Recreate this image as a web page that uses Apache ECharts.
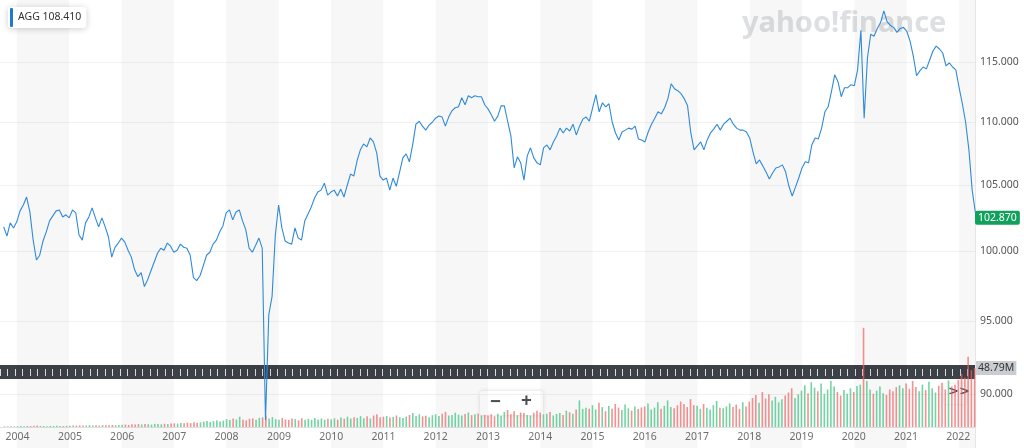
<!DOCTYPE html>
<html>
<head>
<meta charset="utf-8">
<script src="https://cdn.jsdelivr.net/npm/echarts@6.0.0/dist/echarts.min.js"></script>
<style>
html,body{margin:0;padding:0;background:#fff;}
#chart{width:1024px;height:448px;}
</style>
</head>
<body>
<div id="chart"></div>
<script>
// ---------- DATA ----------
// Prices sampled 16 times per year (index 0 = Jan 1, step = 1/16 year)
const price2003 = [101.82, 101.13, 102.12, 101.74]; // starts at index 12
const price2004 = [102.20,103.03,103.48,104.09,102.95,100.83,99.36,99.71,100.76,101.44,102.27,102.65,103.03,103.10,102.57,102.73];
const price2005 = [102.50,103.10,102.88,101.21,100.83,102.12,102.57,103.26,102.50,101.82,102.50,101.82,101.06,99.57,100.29,100.61];
const price2006 = [100.98,100.68,100.08,99.57,98.64,98.14,98.43,97.43,97.93,98.57,99.21,99.86,100.23,100.08,100.61,100.38];
const price2007 = [99.93,100.08,100.53,100.30,100.23,99.71,98.07,97.86,98.21,98.93,99.71,99.93,100.53,100.83,101.44,101.89];
const price2008 = [102.88,103.10,102.35,102.95,103.10,102.27,101.59,100.23,99.93,100.45,100.98,100.23,88.27,95.43,96.71,101.21];
const price2009 = [103.48,101.74,100.76,100.61,100.53,101.74,100.98,100.83,102.27,102.80,103.33,104.01,104.47,104.62,105.16,104.24];
const price2010 = [104.47,104.62,104.17,104.70,104.09,105.00,105.87,105.71,106.90,107.78,108.25,108.02,108.73,108.41,107.54,105.71];
const price2011 = [105.40,105.56,104.62,105.56,104.92,106.03,107.14,107.46,106.83,108.17,109.84,110.08,109.68,109.36,109.76,110.00];
const price2012 = [110.33,110.50,110.42,109.68,110.42,110.93,111.18,111.26,112.01,111.43,112.17,112.01,112.17,112.09,112.09,111.43];
const price2013 = [111.09,110.60,110.08,110.50,111.34,111.34,110.08,108.89,106.35,107.22,106.75,105.40,107.30,107.94,107.14,106.75];
const price2014 = [106.59,107.94,108.17,107.78,108.41,108.89,109.52,109.13,109.52,109.29,109.84,108.97,109.68,110.25,110.42,110.08];
const price2015 = [111.18,112.26,110.85,111.59,111.26,111.51,110.00,109.13,108.57,109.21,109.36,109.52,109.44,109.68,108.65,108.57];
const price2016 = [108.41,109.21,109.84,110.33,110.85,110.68,111.18,111.93,113.17,112.76,112.59,112.34,111.93,111.34,109.13,107.78];
const price2017 = [108.10,108.41,107.78,108.57,109.13,109.44,109.84,109.36,109.84,110.08,110.33,109.84,109.52,109.36,109.36,109.21];
const price2018 = [108.73,107.62,106.67,106.98,106.51,106.03,105.48,105.95,106.35,106.43,106.59,106.03,104.92,104.17,104.85,105.56];
const price2019 = [106.35,106.83,106.75,108.17,108.73,108.65,109.52,110.85,111.26,112.51,113.92,113.34,112.09,112.84,112.84,113.09];
const price2020 = [113.01,114.34,117.72,110.33,115.34,117.38,117.21,117.89,118.40,119.42,118.49,118.15,117.98,117.55,117.89,117.98];
const price2021 = [117.64,116.79,115.51,113.84,114.25,114.58,114.42,115.17,115.94,116.36,116.11,115.77,114.67,114.92,114.58,114.34];
const price2022 = [112.84,111.51,110.00,107.78,104.62,102.87];

// Volumes (millions), same sampling
const vol2003 = [0.5,0.5,0.6,0.5];
const vol2004 = [0.6,0.8,0.7,0.9,0.8,1.0,1.2,0.9,0.8,0.7,0.9,0.8,1.0,0.9,0.8,1.0];
const vol2005 = [1.0,1.2,1.1,1.4,1.3,1.2,1.5,1.3,1.4,1.2,1.6,1.5,1.4,1.7,1.5,1.6];
const vol2006 = [1.8,2.0,1.7,2.2,2.0,2.4,2.1,2.5,2.3,2.0,2.6,2.4,2.2,2.7,2.5,2.8];
const vol2007 = [3.0,2.8,3.4,3.1,3.6,3.2,4.0,3.5,3.8,4.5,5.0,4.2,4.8,5.5,4.6,5.2];
const vol2008 = [6.5,5.8,7.0,6.2,8.5,6.0,5.5,6.8,7.2,6.0,7.5,8.0,9.5,7.0,8.2,6.5];
const vol2009 = [6.0,7.5,6.2,5.8,7.0,6.5,5.5,7.2,6.0,6.8,5.9,7.5,6.3,7.0,6.0,6.8];
const vol2010 = [6.5,7.2,6.0,7.8,6.8,8.5,7.0,8.0,7.5,9.0,7.2,8.8,7.0,9.5,10.5,8.0];
const vol2011 = [8.5,9.0,7.8,8.2,9.5,8.0,7.5,8.6,10.0,11.5,9.0,10.5,8.8,9.2,8.0,9.8];
const vol2012 = [10.5,9.0,11.0,12.5,9.5,10.0,11.8,10.2,9.5,10.8,12.0,9.8,10.5,11.2,9.6,10.0];
const vol2013 = [9.5,10.5,8.8,11.0,9.2,12.5,14.0,10.5,13.0,9.8,12.0,11.5,10.0,9.5,11.8,13.5];
const vol2014 = [12.0,10.5,11.0,12.5,9.5,10.8,11.5,10.0,13.5,12.2,11.0,14.5,22.0,15.0,16.0,15.0];
const vol2015 = [18.0,14.5,20.0,16.5,13.0,17.5,15.0,19.0,16.0,14.0,18.5,15.5,13.5,17.0,14.8,16.2];
const vol2016 = [17.0,19.5,14.5,16.0,20.5,15.0,17.5,22.0,16.5,15.5,18.0,21.0,19.0,16.5,23.0,18.0];
const vol2017 = [17.5,15.0,19.0,16.0,14.5,18.0,21.5,16.0,15.5,17.0,19.5,16.5,18.5,15.0,20.5,17.0];
const vol2018 = [21.0,24.0,26.5,20.0,29.0,23.5,27.0,22.0,25.0,20.5,23.0,26.0,28.5,32.0,24.0,27.0];
const vol2019 = [30.0,34.5,28.0,37.0,32.5,29.5,36.0,27.5,31.0,38.0,33.5,29.0,26.0,30.5,27.5,32.0];
const vol2020 = [29.0,34.0,35.0,82.0,38.0,31.0,27.5,30.0,33.5,28.0,26.5,31.0,29.5,33.0,34.5,32.0];
const vol2021 = [36.0,31.5,38.0,33.0,29.5,35.0,30.5,37.5,32.0,28.5,34.0,36.5,31.0,38.5,33.5,35.0];
const vol2022 = [39.0,44.0,41.0,58.0,47.0,48.79];

const yearBlocks = [
  [2003,12,price2003,vol2003],[2004,0,price2004,vol2004],[2005,0,price2005,vol2005],
  [2006,0,price2006,vol2006],[2007,0,price2007,vol2007],[2008,0,price2008,vol2008],
  [2009,0,price2009,vol2009],[2010,0,price2010,vol2010],[2011,0,price2011,vol2011],
  [2012,0,price2012,vol2012],[2013,0,price2013,vol2013],[2014,0,price2014,vol2014],
  [2015,0,price2015,vol2015],[2016,0,price2016,vol2016],[2017,0,price2017,vol2017],
  [2018,0,price2018,vol2018],[2019,0,price2019,vol2019],[2020,0,price2020,vol2020],
  [2021,0,price2021,vol2021],[2022,0,price2022,vol2022]
];

const priceTicks = [90, 95, 100, 105, 110, 115];
const shadedYears = [2004,2006,2008,2010,2012,2014,2016,2018,2020,2022];
const legendLabel = 'AGG 108.410';
const lastPriceLabel = '102.870';
const lastVolume = 48.79;
const lastVolumeLabel = '48.79M';

// ---------- BUILD ----------
const X_MIN = new Date(2003, 8, 6).getTime();
const X_MAX = new Date(2022, 3, 22).getTime();
const P_MIN = 86.48, P_MAX = 120.39;   // axis range (log scale)
const V_MAX = 105;

function sampleTime(year, i) {
  const a = new Date(year, 0, 1).getTime(), b = new Date(year + 1, 0, 1).getTime();
  return a + (b - a) * i / 16;
}
const priceData = [], volData = [];
let prev = null;
yearBlocks.forEach(([yr, start, ps, vs]) => {
  ps.forEach((p, k) => {
    const t = sampleTime(yr, start + k);
    priceData.push([t, Math.log(p)]);
    const up = prev === null || p >= prev;
    volData.push({ value: [t, vs[k]], itemStyle: { color: up ? 'rgba(60,196,128,0.72)' : 'rgba(238,98,98,0.7)' } });
    prev = p;
  });
});
const lastPrice = priceData[priceData.length - 1][1];

const bands = shadedYears.map(y => [
  { xAxis: new Date(y, 0, 1).getTime() },
  { xAxis: Math.min(new Date(y + 1, 0, 1).getTime(), X_MAX) }
]);

const FONT = 'Noto Sans';
const chart = echarts.init(document.getElementById('chart'), null, { renderer: 'canvas' });
const YEAR = 365 * 24 * 3600 * 1000;

chart.setOption({
  animation: false,
  backgroundColor: '#fff',
  textStyle: { fontFamily: FONT },
  title: [
    {
      left: 8, top: 7,
      text: '{bar|}{txt|' + legendLabel + '}',
      backgroundColor: '#fff', borderRadius: 3,
      shadowBlur: 6, shadowColor: 'rgba(0,0,0,0.2)', shadowOffsetY: 1,
      padding: [1, 5, 1, 2],
      textStyle: {
        fontWeight: 'normal',
        rich: {
          bar: { width: 3, height: 19, backgroundColor: '#1f78d1', borderRadius: 1 },
          txt: { fontSize: 10.5, fontWeight: 'normal', color: '#333', padding: [0, 0, 0, 5], fontFamily: FONT }
        }
      }
    },
    {
      left: 737, top: 4, z: 0,
      text: 'yahoo!finance',
      textStyle: { fontSize: 29, fontWeight: 'bold', color: 'rgba(160,166,176,0.36)', fontFamily: FONT }
    }
  ],
  grid: [
    { left: 0, right: 49, top: 0, bottom: 0 },
    { left: 0, right: 49, top: 300, bottom: 21 },
    { left: 0, right: 49, top: 365, height: 14, show: true, backgroundColor: '#3d4248', borderWidth: 0 }
  ],
  xAxis: [
    { type: 'time', gridIndex: 0, min: X_MIN, max: X_MAX, show: false },
    {
      type: 'time', gridIndex: 1, min: X_MIN, max: X_MAX,
      minInterval: YEAR, maxInterval: YEAR * 1.01,
      axisLine: { show: true, lineStyle: { color: '#e2e2e2' } },
      axisTick: { show: false },
      splitLine: { show: false },
      axisLabel: {
        color: '#707070', fontSize: 10.5, margin: 5, hideOverlap: false,
        formatter: v => { const d = new Date(v); return (d.getMonth() === 0 && d.getDate() === 1) ? String(d.getFullYear()) : ''; }
      }
    },
    {
      type: 'value', gridIndex: 2, min: 0, max: 130, interval: 1, offset: -3,
      axisLine: { show: false }, axisLabel: { show: false }, splitLine: { show: false },
      axisTick: { show: true, inside: true, length: 7, lineStyle: { color: '#d9dcdf', width: 1 } }
    }
  ],
  yAxis: [
    {
      type: 'value', gridIndex: 0, position: 'right',
      min: Math.log(P_MIN), max: Math.log(P_MAX),
      axisLine: { show: true, lineStyle: { color: '#e6e6e6' } },
      axisTick: { show: false, customValues: priceTicks.map(Math.log) },
      splitLine: { show: true, lineStyle: { color: '#f1f1f1' } },
      axisLabel: {
        customValues: priceTicks.map(Math.log),
        color: '#555', fontSize: 10.5, margin: 5,
        formatter: v => Math.exp(v).toFixed(3)
      }
    },
    { type: 'value', gridIndex: 1, min: 0, max: V_MAX, show: false },
    { type: 'value', gridIndex: 2, min: 0, max: 1, show: false }
  ],
  series: [
    {
      type: 'line', xAxisIndex: 0, yAxisIndex: 0, data: [], z: 0, silent: true,
      markArea: { silent: true, itemStyle: { color: 'rgba(0,0,0,0.03)' }, data: bands }
    },
    {
      type: 'bar', xAxisIndex: 1, yAxisIndex: 1, data: volData, barWidth: 1.6, z: 2, silent: true, clip: false,
      markLine: {
        silent: true, symbol: 'none',
        lineStyle: { color: 'rgba(0,0,0,0)', width: 0 },
        label: { show: true, position: 'end', distance: 1, formatter: lastVolumeLabel,
          backgroundColor: '#c9ccd0', color: '#333', fontSize: 10.5, padding: [2, 2, 1, 2] },
        data: [{ yAxis: lastVolume }]
      }
    },
    {
      type: 'line', xAxisIndex: 0, yAxisIndex: 0, data: priceData, z: 5, clip: false,
      showSymbol: false, symbol: 'none', silent: true,
      lineStyle: { color: '#2f8ad9', width: 1.1 },
      markLine: {
        silent: true, symbol: 'none',
        lineStyle: { color: 'rgba(0,0,0,0)', width: 0 },
        label: { show: true, position: 'end', distance: 0, formatter: lastPriceLabel,
          backgroundColor: '#11a15d', color: '#fff', fontSize: 10.5, padding: [2, 3, 1, 3], borderRadius: 2 },
        data: [{ yAxis: lastPrice }]
      }
    }
  ],
  graphic: [
    {
      type: 'group', left: 480, top: 391, z: 20,
      children: [
        { type: 'rect', shape: { width: 63, height: 24, r: 2 }, style: { fill: '#fff', shadowBlur: 4, shadowColor: 'rgba(0,0,0,0.15)' } },
        { type: 'text', x: 10, y: 2, style: { text: '−', fill: '#4a4f55', font: 'bold 19px Noto Sans' } },
        { type: 'text', x: 41, y: 1, style: { text: '+', fill: '#4a4f55', font: 'bold 19px Noto Sans' } }
      ]
    },
    {
      type: 'group', left: 944, top: 384, z: 20,
      children: [
        { type: 'rect', shape: { width: 22, height: 20, r: 2 }, style: { fill: '#fff', shadowBlur: 3, shadowColor: 'rgba(0,0,0,0.12)' } },
        { type: 'text', x: 4, y: 1, style: { text: '>>', fill: '#4a4f55', font: 'bold 13px DejaVu Sans' } }
      ]
    }
  ]
});
</script>
</body>
</html>
